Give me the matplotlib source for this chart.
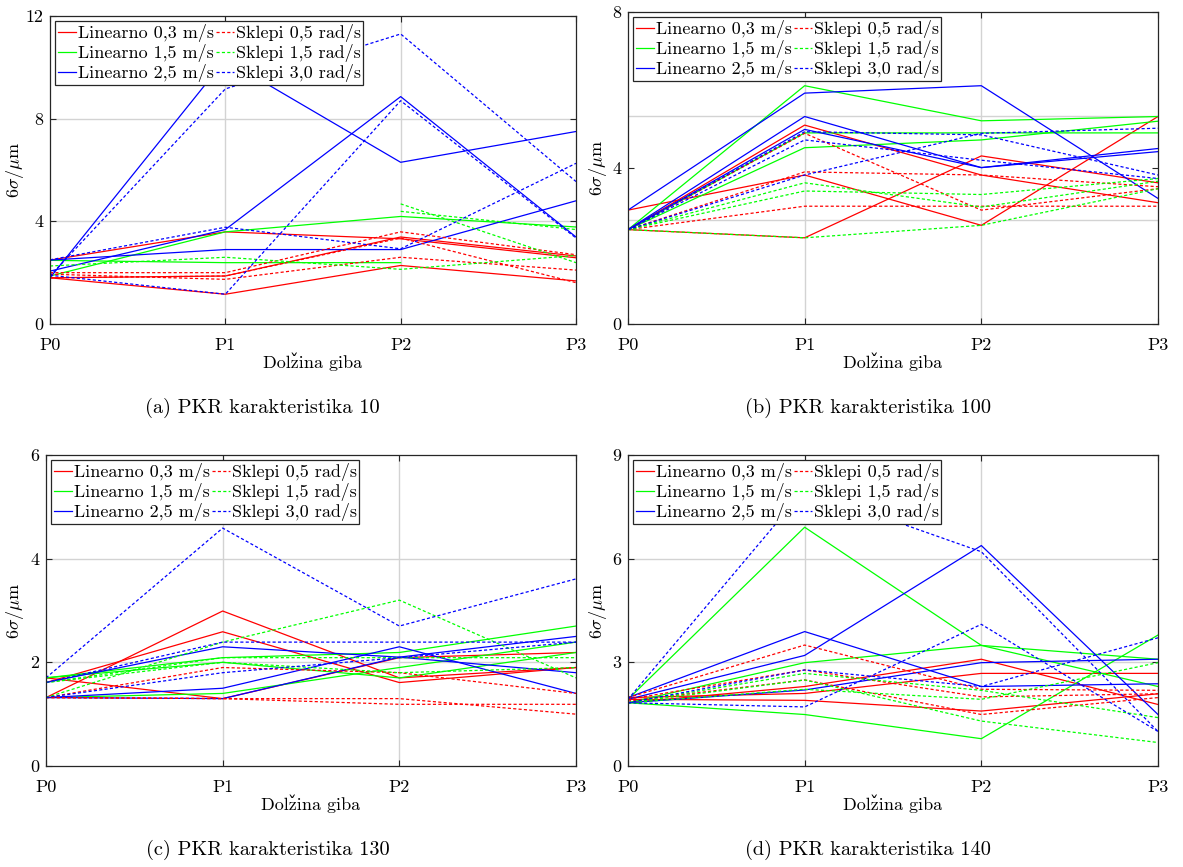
import numpy as np
import matplotlib
matplotlib.use("Agg")
import matplotlib.pyplot as plt
from matplotlib.lines import Line2D

nan = np.nan

plt.rcParams["font.family"] = ["cmr10", "DejaVu Serif"]
plt.rcParams["mathtext.fontset"] = "cm"
plt.rcParams["axes.unicode_minus"] = False

positions = ["P0", "P1", "P2", "P3"]
legend_labels = ["Linearno 0,3 m/s", "Linearno 1,5 m/s", "Linearno 2,5 m/s",
                 "Sklepi 0,5 rad/s", "Sklepi 1,5 rad/s", "Sklepi 3,0 rad/s"]
x_title = "Dolz\u030cina giba"   # z + combining caron, cmr10 has no precomposed ž

# (a) PKR karakteristika 10
a_lin_03 = [[1.8, 1.16, 2.28, 1.68], [2.49, 3.59, 3.32, 2.58], [1.8, 1.87, 3.39, 2.65]]
a_lin_15 = [[1.87, 3.59, 4.19, 3.78], [2.48, 2.39, 2.39, nan]]
a_lin_25 = [[1.8, 10.3, 6.3, 7.5], [2.06, 3.68, 8.86, 3.39], [2.49, 2.9, 2.9, 4.8]]
a_skl_05 = [[2.0, 2.0, 3.59, 2.7], [1.94, 1.74, 2.6, 2.1], [1.8, 1.87, 3.35, 1.61]]
a_skl_15 = [[2.26, 2.6, 2.13, 2.67], [nan, nan, 4.68, 2.39], [nan, nan, 4.39, 3.68]]
a_skl_30 = [[1.87, 9.16, 11.3, 5.55], [2.5, 3.77, 2.93, 6.26], [1.9, 1.16, 8.7, 3.35]]

# (b) PKR karakteristika 100
b_lin_03 = [[2.42, 5.1, 3.82, 3.11], [2.92, 3.82, 2.53, 5.32], [2.42, 2.21, 4.31, 3.62]]
b_lin_15 = [[2.42, 6.11, 5.21, 5.32], [2.42, 4.9, 4.9, 4.9], [2.42, 4.52, 4.72, 5.2]]
b_lin_25 = [[2.92, 5.92, 6.11, 3.22], [2.42, 5.32, 4.01, 4.5], [2.42, 4.99, 4.01, 4.42]]
b_skl_05 = [[2.42, 4.89, 2.92, 3.47], [2.42, 3.9, 3.82, 3.52], [2.42, 3.02, 3.02, 3.02]]
b_skl_15 = [[2.42, 2.21, 2.53, 3.47], [2.42, 3.62, 3.0, 3.66], [2.42, 3.41, 3.32, 3.73]]
b_skl_30 = [[2.42, 4.93, 4.85, 3.82], [2.42, 4.72, 4.2, 3.73], [2.42, 3.82, 4.89, 5.02]]

# (c) PKR karakteristika 130
c_lin_03 = [[1.32, 2.99, 1.7, 1.9], [1.61, 2.59, 1.61, 1.9], [1.7, 1.3, 2.09, 2.19]]
c_lin_15 = [[1.7, 2.09, 2.19, 2.7], [1.7, 2.0, 1.7, 2.19], [1.32, 1.4, 1.9, 2.39]]
c_lin_25 = [[1.61, 2.3, 2.1, 1.8], [1.32, 1.5, 2.3, 1.4], [1.32, 1.3, 2.1, 2.5]]
c_skl_05 = [[1.32, 1.9, 1.8, 1.4], [1.32, 1.3, 1.3, 1.0], [1.32, 1.3, 1.19, 1.19]]
c_skl_15 = [[1.32, 2.39, 3.2, 1.7], [1.61, 2.09, 2.09, 2.09], [1.61, 2.0, 1.8, 1.9]]
c_skl_30 = [[1.7, 4.59, 2.7, 3.61], [1.61, 2.39, 2.39, 2.39], [1.32, 1.8, 2.09, 2.39]]

# (d) PKR karakteristika 140
d_lin_03 = [[1.83, 2.3, 3.09, 1.78], [1.93, 1.9, 1.59, 2.09], [1.98, 2.1, 2.68, 2.68]]
d_lin_15 = [[1.93, 6.91, 3.49, 2.3], [1.83, 2.99, 3.49, 3.09], [1.83, 1.49, 0.79, 3.79]]
d_lin_25 = [[1.98, 3.89, 2.3, 2.38], [1.93, 3.2, 6.38, 1.49], [1.83, 2.2, 2.99, 3.09]]
d_skl_05 = [[1.98, 3.5, 2.22, 2.19], [1.93, 2.78, 2.0, 2.09], [1.88, 2.49, 1.49, 1.98]]
d_skl_15 = [[1.83, 2.68, 2.19, 1.4], [1.83, 2.49, 1.3, 0.68], [1.83, 2.22, 1.93, 2.99]]
d_skl_30 = [[1.93, 8.0, 6.2, 1.0], [1.83, 2.78, 2.3, 3.71], [1.83, 1.71, 4.1, 1.0]]

W, H = 1183, 867

# (groups, ymax, ytick labels, caption, axes box px [l, t, r, b], caption centre px, ylabel offset px)
panels = [
    ([a_lin_03, a_lin_15, a_lin_25, a_skl_05, a_skl_15, a_skl_30], 12, [0, 4, 8, 12],
     "(a) PKR karakteristika 10", [50, 16, 576, 324], (262, 408), 35),
    ([b_lin_03, b_lin_15, b_lin_25, b_skl_05, b_skl_15, b_skl_30], 8, [0, 4, 8],
     "(b) PKR karakteristika 100", [628, 12, 1158, 324], (868, 408), 30),
    ([c_lin_03, c_lin_15, c_lin_25, c_skl_05, c_skl_15, c_skl_30], 6, [0, 2, 4, 6],
     "(c) PKR karakteristika 130", [46, 455, 576, 766], (268, 850), 31),
    ([d_lin_03, d_lin_15, d_lin_25, d_skl_05, d_skl_15, d_skl_30], 9, [0, 3, 6, 9],
     "(d) PKR karakteristika 140", [628, 455, 1158, 766], (868, 850), 30),
]

colors = ["#ff0000", "#00ff00", "#0000ff"]
dash = (2.5, 1.8)
fs = 13

fig = plt.figure(figsize=(W / 100, H / 100), dpi=100)

for groups, ymax, yt, caption, box, cap, yoff in panels:
    l, t, r, b = box
    ax = fig.add_axes([l / W, 1 - b / H, (r - l) / W, (b - t) / H])
    x = np.arange(len(positions))

    # grid (MATLAB style: thirds of the range)
    for gy in (ymax / 3, 2 * ymax / 3):
        ax.axhline(gy, color="#d3d3d3", lw=1.0, zorder=0)
    for gx in (1, 2):
        ax.axvline(gx, color="#d3d3d3", lw=1.0, zorder=0)

    handles = []
    for gi, group in enumerate(groups):
        col = colors[gi % 3]
        dashed = gi >= 3
        for vals in group:
            ln, = ax.plot(x, vals, color=col, lw=0.9, zorder=2)
            if dashed:
                ln.set_dashes(dash)
        h = Line2D([], [], color=col, lw=0.9)
        if dashed:
            h.set_dashes(dash)
        handles.append(h)

    ax.set_xlim(0, 3)
    ax.set_ylim(0, ymax)
    ax.set_xticks(x)
    ax.set_xticklabels(positions)
    ax.set_yticks(yt)
    ax.set_yticklabels([str(v) for v in yt])
    ax.tick_params(direction="in", length=4, top=True, right=True,
                   labelsize=fs, color="#262626")
    ax.tick_params(axis="x", pad=10)
    ax.tick_params(axis="y", pad=5)
    for sp in ax.spines.values():
        sp.set_color("#262626")
        sp.set_linewidth(0.9)

    ax.set_xlabel(x_title, fontsize=fs, va="center")
    ax.xaxis.set_label_coords(0.5, -38 / (b - t))
    ax.set_ylabel(r"$6\sigma/\mu\mathrm{m}$", fontsize=fs, va="center")
    ax.yaxis.set_label_coords(-yoff / (r - l), 0.5)

    leg = ax.legend(handles, legend_labels, ncol=2, loc="upper left",
                    fontsize=fs, handlelength=1.0, handletextpad=0.1,
                    columnspacing=0.1, borderpad=0.15, labelspacing=0.12,
                    borderaxespad=0.3, fancybox=False, framealpha=1)
    leg.get_frame().set_edgecolor("#262626")
    leg.get_frame().set_linewidth(0.9)

    fig.text(cap[0] / W, 1 - cap[1] / H, caption, ha="center", va="center",
             fontsize=14.7)

fig.savefig("out.png", dpi=100)
